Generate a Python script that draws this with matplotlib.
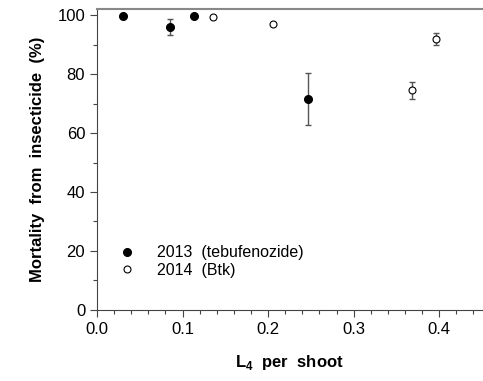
import matplotlib.pyplot as plt
from matplotlib.ticker import MultipleLocator

plt.rcParams['font.family'] = ['Liberation Sans', 'DejaVu Sans']

# 2013 (tebufenozide)
x13 = [0.030, 0.085, 0.1135, 0.247]
y13 = [99.8, 96.0, 99.8, 71.5]
e13 = [0.0, 2.8, 0.0, 8.8]

# 2014 (Btk)
x14 = [0.135, 0.206, 0.368, 0.396]
y14 = [99.2, 96.8, 74.5, 91.8]
e14 = [0.0, 0.0, 2.9, 2.1]

fig = plt.figure(figsize=(4.83, 3.81), dpi=100)
ax = fig.add_axes([0.2008, 0.1864, 0.7972, 0.7896])

ax.errorbar(x13, y13, yerr=e13, fmt='none', ecolor='#555555',
            elinewidth=1, capsize=2, capthick=1)
ax.errorbar(x14, y14, yerr=e14, fmt='none', ecolor='#555555',
            elinewidth=1, capsize=2, capthick=1)
ax.plot(x13, y13, 'o', color='black', ms=5.5, label='2013  (tebufenozide)')
ax.plot(x14, y14, 'o', mfc='white', mec='black', mew=0.8, ms=5, label='2014  (Btk)')

ax.set_xlim(0, 0.45)
ax.set_ylim(0, 102)
ax.xaxis.set_major_locator(MultipleLocator(0.1))
ax.xaxis.set_minor_locator(MultipleLocator(0.02))
ax.yaxis.set_major_locator(MultipleLocator(20))
ax.yaxis.set_minor_locator(MultipleLocator(10))
ax.xaxis.set_major_formatter(plt.FormatStrFormatter('%.1f'))
ax.tick_params(which='both', direction='out', color='#444444', width=0.8, labelsize=12)
ax.tick_params(which='major', length=5)
ax.tick_params(which='minor', length=3)

for s in ['left', 'bottom']:
    ax.spines[s].set_color('#444444')
    ax.spines[s].set_linewidth(0.8)
ax.spines['top'].set_color('#888888')
ax.spines['top'].set_linewidth(1.5)
ax.spines['right'].set_visible(False)

ax.set_ylabel('Mortality  from  insecticide  (%)', fontsize=12, fontweight='bold', labelpad=9)
ax.set_xlabel(r'L$_{\mathregular{4}}$  per  shoot', fontsize=12, fontweight='bold', labelpad=12)

ax.legend(loc='lower left', bbox_to_anchor=(0.01, 0.06), frameon=False, fontsize=11.5,
          handletextpad=1.1, labelspacing=0.15, handlelength=1.5)

fig.savefig('out.png', dpi=100)
